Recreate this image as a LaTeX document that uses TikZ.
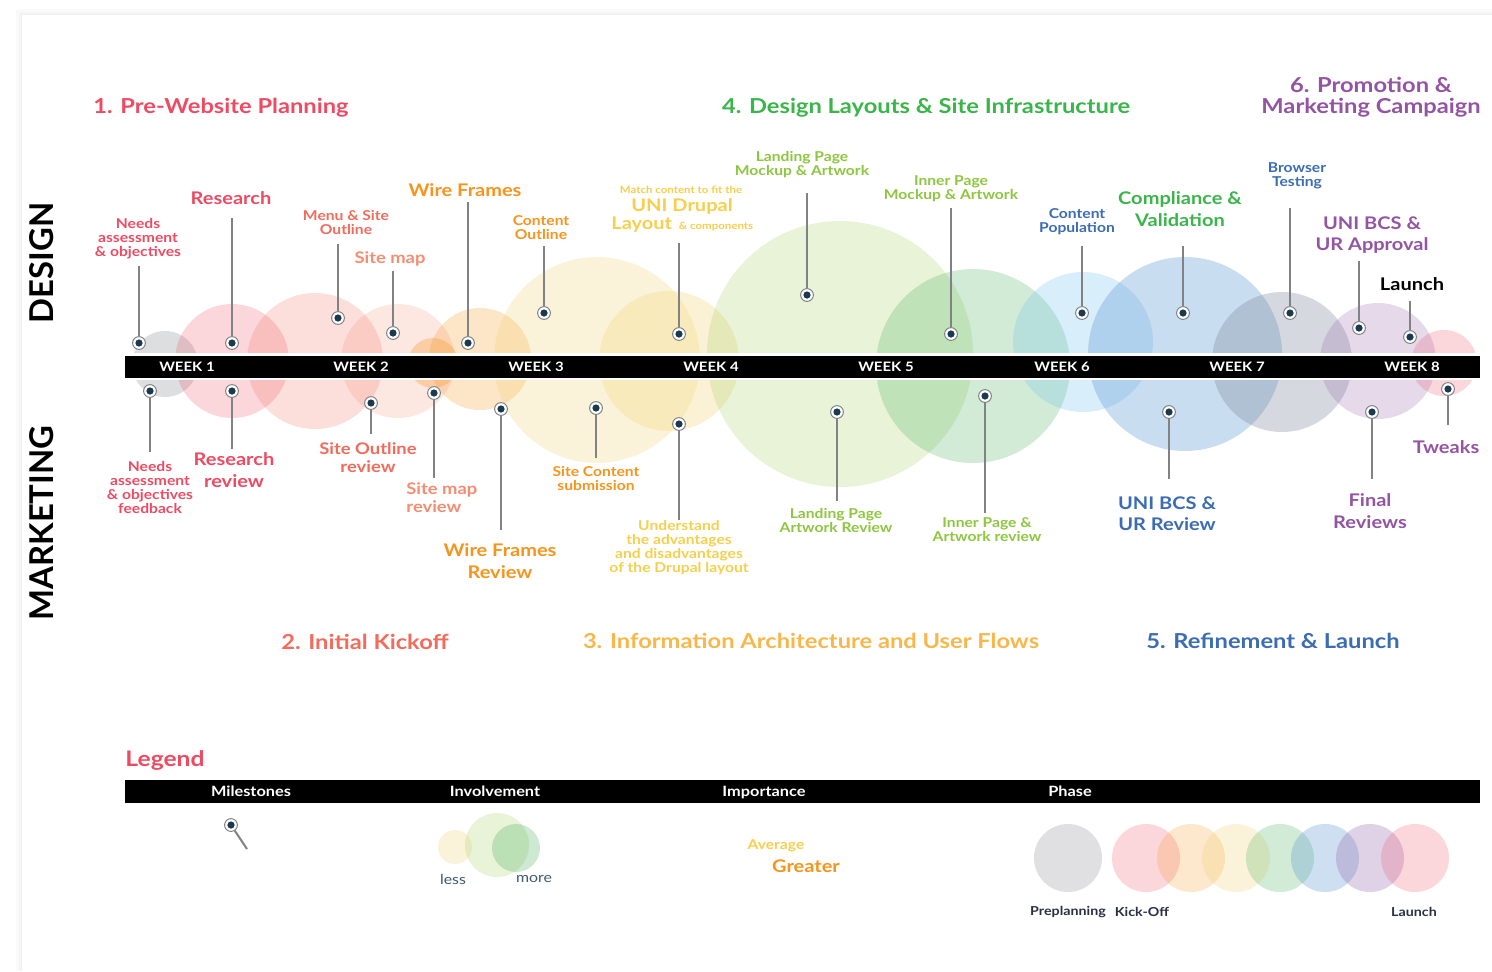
\documentclass[tikz,border=0pt]{standalone}
\usepackage{fontspec}
\setmainfont{Lato}[FakeStretch=1.15]
\newfontfamily\plainlato{Lato}
\definecolor{cred}{HTML}{EE4B63}
\definecolor{ccoral}{HTML}{F26B5B}
\definecolor{csalmon}{HTML}{F58D72}
\definecolor{corange}{HTML}{F7941D}
\definecolor{cyellow}{HTML}{F6CF4C}
\definecolor{csec}{HTML}{F9B74B}
\definecolor{clime}{HTML}{8DC63F}
\definecolor{cgreen}{HTML}{39B54A}
\definecolor{cblue}{HTML}{3B6CB4}
\definecolor{cpurple}{HTML}{9454A4}
\definecolor{navy}{HTML}{1B3A4F}
\definecolor{stemgray}{HTML}{808285}
\definecolor{lessmore}{HTML}{3D5A70}
\definecolor{darknavy}{HTML}{2B2E45}
\definecolor{fgray}{HTML}{A7A9AC}
\definecolor{fpink}{HTML}{EE4B63}
\definecolor{fsalmon}{HTML}{F26B5B}
\definecolor{flsalmon}{HTML}{F47C5E}
\definecolor{forange}{HTML}{F7941D}
\definecolor{fyellow}{HTML}{F2D36B}
\definecolor{flime}{HTML}{8DC63F}
\definecolor{fgreen}{HTML}{4CB05C}
\definecolor{flblue}{HTML}{6DC0F0}
\definecolor{fblue}{HTML}{4F8FD0}
\definecolor{fgblue}{HTML}{7F8799}
\definecolor{fpurple}{HTML}{9B6BAE}
\begin{document}
\begin{tikzpicture}[x=0.5pt,y=-0.5pt,
  marker/.style={circle,draw=stemgray,line width=0.5pt,fill=white,minimum size=6.4pt,inner sep=0pt,
     path picture={\fill[navy] (path picture bounding box.center) circle[radius=1.8pt];}},
  stem/.style={draw=stemgray,line width=1pt},
  lab/.style={align=center,inner sep=0pt},
  sm/.style={lab,font=\bfseries\fontsize{6.8}{7}\selectfont},
  md/.style={lab,font=\bfseries\fontsize{8}{9}\selectfont},
  lg/.style={lab,font=\bfseries\fontsize{8.7}{10.6}\selectfont},
  tiny/.style={lab,font=\bfseries\fontsize{5}{6}\selectfont},
  title/.style={lab,font=\bfseries\fontsize{10.3}{10.5}\selectfont},
  week/.style={lab,text=white,font=\bfseries\fontsize{6.5}{7}\selectfont},
  head/.style={lab,text=white,text height=5pt,text depth=0pt,font=\bfseries\fontsize{7.1}{8}\selectfont},
  side/.style={lab,rotate=90,font=\plainlato\bfseries\fontsize{16.4}{18}\selectfont}]
\useasboundingbox (0,0) rectangle (1492,971);
% card with soft shadow
\fill[black!2] (16,9) rectangle (1492,971);
\fill[black!4] (19,12) rectangle (1492,971);
\fill[black!6] (21,14) rectangle (1492,971);
\fill[white] (22,15) rectangle (1492,971);
% phase circles along the timeline
\fill[fgray,fill opacity=.38] (165,364) circle (33);
\fill[fpink,fill opacity=.22] (232,361) circle (57);
\fill[fsalmon,fill opacity=.22] (315,361) circle (68);
\fill[flsalmon,fill opacity=.18] (398,361) circle (57);
\fill[forange,fill opacity=.3] (433,363) circle (25);
\fill[forange,fill opacity=.24] (480,359) circle (51);
\fill[fyellow,fill opacity=.25] (597,360) circle (103);
\fill[fyellow,fill opacity=.28] (669,361) circle (70);
\fill[flime,fill opacity=.2] (840,354) circle (133);
\fill[fgreen,fill opacity=.25] (973,366) circle (97);
\fill[flblue,fill opacity=.26] (1083,342) circle (70);
\fill[fblue,fill opacity=.3] (1185,354) circle (97);
\fill[fgblue,fill opacity=.32] (1282,362) circle (70);
\fill[fpurple,fill opacity=.25] (1378,361) circle (58);
\fill[fpink,fill opacity=.22] (1444,363) circle (33);
% timeline bar
\fill[white] (125,353) rectangle (1480,380);
\fill[black] (125,356) rectangle (1480,378);
\node[week] (w1) at (187,367) {WEEK 1};
\node[week] (w2) at (361,367) {WEEK 2};
\node[week] (w3) at (536,367) {WEEK 3};
\node[week] (w4) at (711,367) {WEEK 4};
\node[week] (w5) at (886,367) {WEEK 5};
\node[week] (w6) at (1062,367) {WEEK 6};
\node[week] (w7) at (1237,367) {WEEK 7};
\node[week] (w8) at (1412,367) {WEEK 8};
% milestones: markers, stems
\foreach \n/\x/\y/\t in {d1/139/343/266, d2/232/343/218, d3/338/318/244, d4/393/333/271, d5/468/343/202,
  d6/544/313/246, d7/679/334/243, d8/807/295/193, d9/951/334/208, d10/1082/313/246, d11/1183/313/246,
  d12/1290/313/208, d13/1359/328/261, d14/1410/337/301,
  k1/150/391/452, k2/232/391/449, k3/371/403/434, k4/434/393/478, k5/501/409/530, k6/596/408/458,
  k7/679/424/520, k8/837/412/501, k9/985/396/513, k10/1169/412/479, k11/1372/412/479, k12/1448/389/425}
{
  \node[marker] (m\n) at (\x,\y) {};
  \coordinate (t\n) at (\x,\t);
  \draw[stem] (m\n) -- (t\n);
}
% design labels
\node[sm,text=cred] (ld1) at (138,239) {Needs\\assessment\\\& objectives};
\node[lg,text=cred] (ld2) at (231,198) {Research};
\node[sm,text=ccoral] (ld3) at (346,223) {Menu \& Site\\Outline};
\node[md,text=csalmon] (ld4) at (390,259) {Site map};
\node[lg,text=corange] (ld5) at (465,190) {Wire Frames};
\node[sm,text=corange] (ld6) at (541,228) {Content\\Outline};
\node[tiny,text=cyellow] (ld7a) at (681,190) {Match content to fit the};
\node[lg,text=cyellow] (ld7b) at (682,206) {UNI Drupal};
\node[lg,text=cyellow,anchor=base west] (ld7c) at (611,229) {Layout};
\node[tiny,text=cyellow,anchor=base west] (ld7d) at ([xshift=3pt]ld7c.base east) {\& components};
\node[sm,text=clime] (ld8) at (802,165) {Landing Page\\Mockup \& Artwork};
\node[sm,text=clime] (ld9) at (951,189) {Inner Page\\Mockup \& Artwork};
\node[sm,text=cblue] (ld10) at (1077,222) {Content\\Population};
\node[lg,text=cgreen] (ld11) at (1180,209) {Compliance \&\\Validation};
\node[sm,text=cblue] (ld12) at (1297,176) {Browser\\Testing};
\node[lg,text=cpurple] (ld13) at (1372,235) {UNI BCS \&\\UR Approval};
\node[lg,text=black] (ld14) at (1412,284) {Launch};
% marketing labels
\node[sm,text=cred] (lk1) at (150,487) {Needs\\assessment\\\& objectives\\feedback};
\node[lg,text=cred] (lk2) at (234,470) {Research\\review};
\node[md,text=ccoral] (lk3) at (368,458) {Site Outline\\review};
\node[md,text=csalmon,align=left,anchor=west] (lk4) at (406,498) {Site map\\review};
\node[lg,text=corange] (lk5) at (500,561) {Wire Frames\\Review};
\node[sm,text=corange] (lk6) at (596,478) {Site Content\\submission};
\node[sm,text=cyellow] (lk7) at (679,548) {Understand\\the advantages\\and disadvantages\\of the Drupal layout};
\node[sm,text=clime] (lk8) at (836,520) {Landing Page\\Artwork Review};
\node[sm,text=clime] (lk9) at (987,530) {Inner Page \&\\Artwork review};
\node[lg,text=cblue] (lk10) at (1167,514) {UNI BCS \&\\UR Review};
\node[lg,text=cpurple] (lk11) at (1370,511) {Final\\Reviews};
\node[lg,text=cpurple] (lk12) at (1446,447) {Tweaks};
% phase titles
\node[title,text=cred] (p1) at (221,108) {1. Pre-Website Planning};
\node[title,text=cgreen] (p4) at (926,108) {4. Design Layouts \& Site Infrastructure};
\node[title,text=cpurple] (p6) at (1371,97) {6. Promotion \&\\Marketing Campaign};
\node[title,text=ccoral] (p2) at (365,642) {2. Initial Kickoff};
\node[title,text=csec] (p3) at (811,641) {3. Information Architecture and User Flows};
\node[title,text=cblue] (p5) at (1273,641) {5. Refinement \& Launch};
% side labels
\node[side] (design) at (42,263) {DESIGN};
\node[side] (marketing) at (42,523) {MARKETING};
% legend
\node[lab,text=cred,font=\bfseries\fontsize{10.7}{12}\selectfont] (legend) at (165,760) {Legend};
\fill[black] (125,780) rectangle (1480,803);
\node[head] (h1) at (251,791) {Milestones};
\node[head] (h2) at (495,791) {Involvement};
\node[head] (h3) at (764,791) {Importance};
\node[head] (h4) at (1070,791) {Phase};
\node[marker] (lm) at (231,825) {};
\coordinate (lmt) at (247,849);
\draw[stem] (lm) -- (lmt);
\fill[fyellow,fill opacity=.25] (455,847) circle (17);
\fill[flime,fill opacity=.2] (497,845) circle (32);
\fill[fgreen,fill opacity=.28] (516,848) circle (24);
\node[lab,text=lessmore,font=\fontsize{6.9}{8}\selectfont] (less) at (453,879) {less};
\node[lab,text=lessmore,font=\fontsize{6.9}{8}\selectfont] (more) at (534,879) {more};
\node[lab,text=cyellow,font=\bfseries\fontsize{6.8}{8}\selectfont] (avg) at (776,846) {Average};
\node[lg,text=corange] (grt) at (806,866) {Greater};
\fill[fgray,fill opacity=.35] (1068,858) circle (34);
\fill[fpink,fill opacity=.22] (1146,858) circle (34);
\fill[forange,fill opacity=.22] (1191,858) circle (34);
\fill[fyellow,fill opacity=.25] (1236,858) circle (34);
\fill[fgreen,fill opacity=.25] (1280,858) circle (34);
\fill[fblue,fill opacity=.28] (1325,858) circle (34);
\fill[fpurple,fill opacity=.3] (1370,858) circle (34);
\fill[fpink,fill opacity=.22] (1415,858) circle (34);
\node[lab,text=darknavy,font=\bfseries\fontsize{6.2}{7}\selectfont] (pre) at (1068,912) {Preplanning};
\node[lab,text=darknavy,font=\bfseries\fontsize{6.2}{7}\selectfont] (kick) at (1142,912) {Kick-Off};
\node[lab,text=darknavy,font=\bfseries\fontsize{6.2}{7}\selectfont] (lau) at (1414,912) {Launch};
\end{tikzpicture}
\end{document}
